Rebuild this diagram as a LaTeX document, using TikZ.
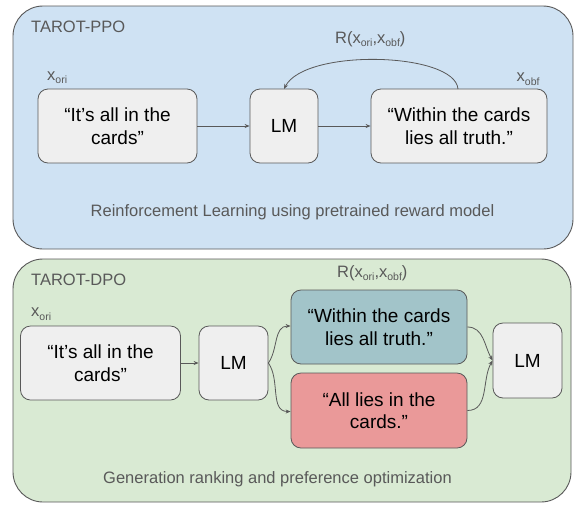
\documentclass[tikz,border=0pt]{standalone}
\usepackage{fontspec}
\setmainfont{Liberation Sans}
\usetikzlibrary{arrows.meta}
\definecolor{panelblue}{HTML}{CFE2F3}
\definecolor{panelgreen}{HTML}{D9EAD3}
\definecolor{boxgray}{HTML}{EFEFEF}
\definecolor{boxteal}{HTML}{A2C4C9}
\definecolor{boxred}{HTML}{EA9999}
\definecolor{edgegray}{HTML}{595959}
\definecolor{labelgray}{HTML}{595959}
\newcommand{\mysub}[1]{\raisebox{-0.45ex}{\fontsize{10.5}{11}\selectfont #1}}
\tikzset{
  panel/.style={draw=edgegray, line width=0.9pt, rounded corners=30pt, inner sep=0pt},
  textbox/.style={draw=edgegray, line width=0.8pt, rounded corners=10pt, fill=boxgray,
    align=center, inner sep=0pt, font=\fontsize{19}{22.5}\selectfont, text=black},
  lbl/.style={inner sep=0pt, text=labelgray, font=\fontsize{16.5}{19}\selectfont},
  conn/.style={draw=edgegray, line width=0.8pt, -{Stealth[length=5pt,width=4pt]}}
}
\begin{document}
\begin{tikzpicture}[x=1pt,y=-1pt]
\useasboundingbox (0,0) rectangle (575,504);
% ---------- TAROT-PPO panel ----------
\node[panel, fill=panelblue, minimum width=560pt, minimum height=243pt] (ppo) at (293,127.5) {};
\node[lbl, anchor=base west] (ppotitle) at (31,32.7) {TAROT-PPO};
\node[textbox, minimum width=159pt, minimum height=74pt] (in1) at (117.5,126) {“It’s all in the\\cards”};
\node[textbox, minimum width=68pt, minimum height=74pt] (lm1) at (284,126) {LM};
\node[textbox, minimum width=176pt, minimum height=74pt] (out1) at (459,126) {“Within the cards\\lies all truth.”};
\node[lbl, anchor=base west] (xori1) at (47,80) {x\mysub{ori}};
\node[lbl, anchor=base west] (xobf1) at (516.5,81.5) {x\mysub{obf}};
\node[lbl, anchor=base west] (r1) at (335,43) {R(x\mysub{ori},x\mysub{obf})};
\node[lbl, anchor=base] (rl) at (292.5,216.7) {Reinforcement Learning using pretrained reward model};
\draw[conn] (in1) -- (lm1);
\draw[conn] (lm1) -- (out1);
\coordinate (arcstart) at (458,89);
\coordinate (arcend) at (284,89);
\draw[conn] (arcstart) .. controls (455,52) and (305,48) .. (arcend);
% ---------- TAROT-DPO panel ----------
\node[panel, fill=panelgreen, minimum width=558pt, minimum height=243pt] (dpo) at (292,380.5) {};
\node[lbl, anchor=base west] (dpotitle) at (31,285) {TAROT-DPO};
\node[lbl, anchor=base west] (xori2) at (31,316.7) {x\mysub{ori}};
\node[lbl, anchor=base west] (r2) at (337,277) {R(x\mysub{ori},x\mysub{obf})};
\node[textbox, minimum width=160pt, minimum height=74pt] (in2) at (100.5,363) {“It’s all in the\\cards”};
\node[textbox, minimum width=69pt, minimum height=74pt] (lm2) at (233.5,363) {LM};
\node[textbox, fill=boxteal, minimum width=176pt, minimum height=74pt] (teal) at (379,327) {“Within the cards\\lies all truth.”};
\node[textbox, fill=boxred, minimum width=176pt, minimum height=75pt] (red) at (379,410.5) {“All lies in the\\cards.”};
\node[textbox, minimum width=69pt, minimum height=75pt] (lm3) at (527.5,360.5) {LM};
\node[lbl, anchor=base] (gr) at (277.5,483) {Generation ranking and preference optimization};
\draw[conn] (in2) -- (lm2);
\draw[conn] (lm2.east) to[out=55,in=180] ([yshift=1pt]teal.west);
\draw[conn] (lm2.east) to[out=-55,in=180] ([yshift=-1pt]red.west);
\draw[conn] (teal.east) to[out=0,in=120] (lm3.west);
\draw[conn] (red.east) to[out=0,in=-120] (lm3.west);
\end{tikzpicture}
\end{document}
